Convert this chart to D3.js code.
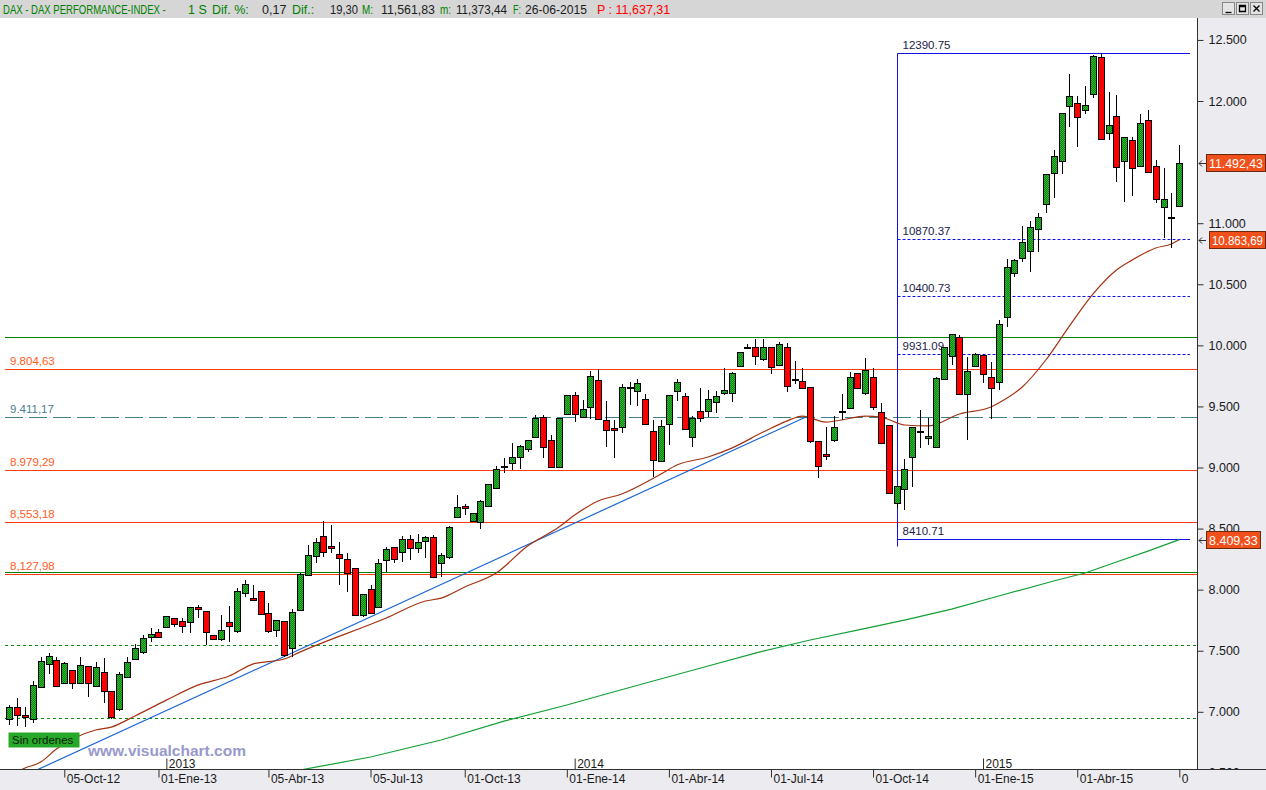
<!DOCTYPE html>
<html><head><meta charset="utf-8">
<script src="https://cdn.jsdelivr.net/npm/d3@7"></script>
<style>body{margin:0;background:#fff;overflow:hidden}svg{display:block}</style>
</head><body><svg id="c" width="1266" height="790"></svg>
<script>
// ---------------- DATA ----------------
const firstFriday = "2012-08-17";   // weekly candles, one per week
const opens = [6941,7039,6974,6941,7203,7391,7424,7236,7342,7236, 7375,7211,7326,7170,7023,7285,7432,7489,7612,7653,
 7694,7768,7743,7735,7858,7825,7629,7596,7735,7661, 7972,7931,7989,7809,7669,7743,7522,7833,8120,8275,
 8439,8360,8292,8251,8177,7792,8005,7858,8243,8349, 8308,8414,8341,8398,8431,8218,8267,8595,8685,8562,
 8554,8685,8832,9012,9037,9086,9151,9249,9413,9225, 9004,9438,9593,9413,9495,9716,9389,9323,9331,9659,
 9626,9560,9299,9053,9356,9626,9585,9249,9462,9462, 9536,9610,9610,9831,9986,9986,9888,9986,9839,9986,
 9724,9708,9659,9217,9110,9225,9462,9487,9773,9610, 9741,9454,9348,8709,8824,9086,9299,9241,9168,9724,
 9912,10068,9601,9831,9921,9741,9700,10232,10592,10715, 10772,10952,11157,11411,11509,11959,11984,11927,12058,12361,
 11738,11877,11509,11681,11468,11845,11468,11133,11050,11141];
const highs = [7056,7113,7039,7252,7448,7481,7448,7407,7342,7448, 7375,7407,7440,7170,7326,7448,7555,7629,7686,7678,
 7784,7768,7768,7858,7874,7825,7629,7792,7866,8013, 8079,8038,7989,7890,7751,7743,7841,8136,8365,8423,
 8562,8529,8390,8300,8177,7964,8038,8251,8349,8349, 8439,8447,8455,8439,8447,8300,8521,8775,8701,8627,
 8734,8865,9012,9078,9200,9184,9225,9430,9430,9266, 9405,9593,9618,9552,9790,9806,9544,9389,9683,9700,
 9724,9601,9389,9389,9593,9724,9610,9421,9651,9634, 9626,9814,9782,9945,10011,10052,10052,9986,10027,10019,
 9872,9814,9659,9217,9331,9421,9601,9782,9773,9896, 9814,9528,9348,8848,9069,9331,9470,9405,9741,9986,
 10093,10084,9904,9937,9929,9863,10207,10707,10707,10977, 11018,11083,11403,11599,11902,12221,12041,12123,12375,12390.75,
 12074,12049,11706,11706,11894,11927,11517,11452,11247,11640];
const lows = [6892,6884,6875,6908,7195,7309,7211,7236,7186,7236, 7121,7211,7072,6941,7006,7285,7424,7473,7571,7612,
 7694,7694,7645,7645,7768,7547,7596,7579,7571,7645, 7940,7915,7800,7645,7612,7448,7448,7833,8120,8218,
 8267,8300,8038,7981,7792,7776,7800,7850,8144,8218, 8226,8243,8300,8259,8103,8103,8251,8595,8611,8562,
 8496,8676,8832,8955,8979,8988,9127,9249,9078,8996, 9004,9438,9372,9413,9397,9397,9170,9078,9282,9511,
 9503,9356,8922,9053,9184,9544,9315,9168,9372,9413, 9446,9593,9536,9831,9970,9839,9872,9765,9839,9618,
 9683,9651,9200,8914,9061,9209,9389,9487,9651,9593, 9470,9200,8791,8668,8652,8840,9159,9184,9168,9724,
 9839,9601,9225,9831,9691,9397,9634,10150,10559,10682, 10600,10764,11083,11206,11403,11787,11624,11894,12025,11689,
 11681,11337,11173,11223,11468,11419,11165,10879,10797,11141];
const closes = [7039,6974,6957,7219,7416,7457,7211,7399,7236,7383, 7236,7367,7170,6957,7309,7407,7522,7604,7637,7612,
 7784,7719,7702,7858,7841,7653,7596,7669,7702,7989, 8046,7915,7800,7661,7751,7465,7817,8128,8283,8390,
 8308,8343,8259,8136,7792,7964,7809,8218,8333,8251, 8414,8341,8390,8431,8103,8283,8513,8676,8668,8627,
 8725,8865,8988,9008,9086,9176,9225,9405,9168,9004, 9405,9593,9438,9479,9749,9397,9307,9307,9659,9655,
 9691,9356,9061,9340,9593,9700,9315,9405,9405,9561, 9585,9634,9773,9945,9982,9912,9986,9822,10011,9667,
 9720,9651,9217,9012,9094,9331,9458,9741,9651,9798, 9495,9200,8791,8848,8988,9331,9295,9258,9732,9986,
 10093,9601,9790,9929,9765,9651,10174,10641,10699,10846, 10969,11051,11403,11550,11902,12041,11869,11968,12369,11689,
 11804,11460,11706,11452,11820,11419,11198,11198,11042,11492.43];

// 30-week moving average (brown), read at these candle numbers
const maShortWeek = [1,3,5,7,12,14,17,21,25,29,32,36,38,49,54,56,59,63,67,71,73,76,79,84,86,90,93,97,100,102,105,107,110,112,115,118,122,126,127,130,133,136,139,142,144,147,149,150];
const maShortVal  = [6482,6540,6589,6695,6851,6875,6966,7096,7219,7293,7391,7432,7489,7768,7907,7931,8022,8136,8357,8513,8611,8726,8783,8947,9020,9086,9159,9290,9380,9421,9372,9389,9421,9413,9348,9340,9438,9495,9528,9659,9880,10158,10420,10617,10699,10797,10830,10863.69];
// long moving average (green)
const maLongWeek = [38,47,56,64,72,77,83,90,96,103,109,115,121,127,134,138,142,146,150];
const maLongVal  = [6523,6630,6769,6924,7056,7146,7252,7375,7481,7588,7669,7751,7841,7948,8071,8136,8226,8316,8409.33];
// blue trend line: [week, value]
const trendWeek = [4, 103];
const trendVal  = [6509, 9430];

// horizontal levels
const redLevels = [9804.63, 8979.29, 8553.18, 8127.98];
const redLevelLabels = ["9.804,63", "8.979,29", "8,553,18", "8,127,98"];
const dashLevel = 9411.17, dashLevelLabel = "9.411,17";
const greenSolidLevels = [10066, 8142];
const greenDottedLevels = [7544, 6947];

// fibonacci retracement
const fibStartWeek = 114;
const fibLevels = [12390.75, 10870.37, 10400.73, 9931.09, 8410.71];
const fibLabels = ["12390.75", "10870.37", "10400.73", "9931.09", "8410.71"];
const fibSolid  = [true, false, false, false, true];

// axes (11.500 is hidden behind the price box in the original)
const yTickValues = [6500,7000,7500,8000,8500,9000,9500,10000,10500,11000,12000,12500];
const yMinorStep = 100;
const xTickDates  = ["2012-10-05","2013-01-01","2013-04-05","2013-07-05","2013-10-01","2014-01-01","2014-04-01","2014-07-01","2014-10-01","2015-01-01","2015-04-01"];
const xTickLabels = ["05-Oct-12","01-Ene-13","05-Abr-13","05-Jul-13","01-Oct-13","01-Ene-14","01-Abr-14","01-Jul-14","01-Oct-14","01-Ene-15","01-Abr-15"];
const yearLabels  = ["2013","2014","2015"];

// right-axis value boxes
const boxValues = [11492.43, 10863.69, 8409.33];
const boxLabels = ["11.492,43", "10.863,69", "8.409,33"];

// header
const header = [
 ["DAX - DAX PERFORMANCE-INDEX -",3,163,"g"],["1 S",188,19,"g"],["Dif. %:",212,37,"g"],["0,17",262,25,"k"],
 ["Dif.:",292,29,"g"],["19,30",330,28,"k"],["M:",362,11,"g"],["11,561,83",381,54,"k"],["m:",440,11,"g"],
 ["11,373,44",456,51,"k"],["F:",513,8,"g"],["26-06-2015",525,62,"k"],["P : 11,637,31",597,78,"r"]];

// ---------------- CHART ----------------
const svg = d3.select("#c");
const W = 1266, H = 790, plotR = 1197, plotT = 18, plotB = 770;
const FONT = "'Liberation Sans', Arial, sans-serif";

const parse = d3.utcParse("%Y-%m-%d");
const dates = opens.map((_, i) => d3.utcDay.offset(parse(firstFriday), 7 * i));
const x = d3.scaleUtc().domain([dates[0], dates[dates.length - 1]]).range([9.3, 1179.3]);
const y = d3.scaleLinear().domain([6500, 12500]).range([772.9, 39.95]);
const xw = w => x(d3.utcDay.offset(dates[0], 7 * (w - 1)));
const cy = v => Math.round(y(v)) + 0.5;

// helper: text squeezed horizontally to a given width
function fitText(parent, str, tx, ty, width, size, color, weight) {
  const g = parent.append("g");
  const t = g.append("text").text(str).attr("font-family", FONT).attr("font-size", size)
    .attr("fill", color).attr("font-weight", weight || null);
  const nat = t.node().getComputedTextLength();
  const sx = Math.min(1, width / nat);
  g.attr("transform", `translate(${tx},${ty}) scale(${sx},1)`);
  return g;
}

const defs = svg.append("defs");
const pat = defs.append("pattern").attr("id", "gp").attr("width", 2).attr("height", 2).attr("patternUnits", "userSpaceOnUse");
pat.append("rect").attr("width", 2).attr("height", 2).attr("fill", "#0b870b");
pat.append("rect").attr("width", 1).attr("height", 1).attr("fill", "#34b434");
pat.append("rect").attr("x", 1).attr("y", 1).attr("width", 1).attr("height", 1).attr("fill", "#34b434");
defs.append("clipPath").attr("id", "clip").append("rect").attr("x", 0).attr("y", plotT).attr("width", plotR).attr("height", plotB - plotT);

// backgrounds
svg.append("rect").attr("width", W).attr("height", H).attr("fill", "#ebebf0");
svg.append("rect").attr("x", 0).attr("y", plotT).attr("width", plotR).attr("height", plotB - plotT).attr("fill", "#ffffff");
svg.append("rect").attr("x", 0).attr("y", 0).attr("width", W).attr("height", plotT).attr("fill", "#d6d6d6");

const plot = svg.append("g").attr("clip-path", "url(#clip)");

// horizontal levels
const hline = (v, color, dash) => plot.append("line").attr("x1", 5).attr("x2", plotR).attr("y1", cy(v)).attr("y2", cy(v))
  .attr("stroke", color).attr("stroke-width", 1).attr("stroke-dasharray", dash || null);
greenSolidLevels.forEach(v => hline(v, "#008000"));
greenDottedLevels.forEach(v => hline(v, "#108a10", "3,3"));
redLevels.forEach(v => hline(v, "#ff3c10"));
hline(dashLevel, "#3f808c", "18,6");

redLevels.forEach((v, i) => plot.append("text").attr("x", 10).attr("y", y(v) - 4).text(redLevelLabels[i])
  .attr("font-family", FONT).attr("font-size", 11.5).attr("fill", "#ff5a22"));
plot.append("text").attr("x", 10).attr("y", y(dashLevel) - 4).text(dashLevelLabel)
  .attr("font-family", FONT).attr("font-size", 11.5).attr("fill", "#4a8090");

// fibonacci
const fx = Math.round(xw(fibStartWeek)) + 0.5;
plot.append("line").attr("x1", fx).attr("x2", fx).attr("y1", cy(fibLevels[0])).attr("y2", cy(fibLevels[4]) + 7)
  .attr("stroke", "#1010e8");
fibLevels.forEach((v, i) => {
  plot.append("line").attr("x1", fx).attr("x2", 1190).attr("y1", cy(v)).attr("y2", cy(v))
    .attr("stroke", "#1010e8").attr("stroke-dasharray", fibSolid[i] ? null : "3,2");
  plot.append("text").attr("x", fx + 5).attr("y", y(v) - 4).text(fibLabels[i])
    .attr("font-family", FONT).attr("font-size", 11.5).attr("fill", "#1c1c48");
});

// moving averages & trend
const line = d3.line().x(d => xw(d[0])).y(d => y(d[1]));
plot.append("path").datum(maLongWeek.map((w, i) => [w, maLongVal[i]])).attr("d", line)
  .attr("fill", "none").attr("stroke", "#12a035").attr("stroke-width", 1.2);
plot.append("path").datum(trendWeek.map((w, i) => [w, trendVal[i]])).attr("d", line)
  .attr("fill", "none").attr("stroke", "#1a66d6").attr("stroke-width", 1.2);
plot.append("path").datum(maShortWeek.map((w, i) => [w, maShortVal[i]])).attr("d", d3.line().curve(d3.curveMonotoneX).x(d => xw(d[0])).y(d => y(d[1])))
  .attr("fill", "none").attr("stroke", "#a33210").attr("stroke-width", 1.2);

// candles
const candles = dates.map((d, i) => ({ d, o: opens[i], h: highs[i], l: lows[i], c: closes[i] }));
const cg = plot.append("g").selectAll("g").data(candles).join("g");
cg.append("line")
  .attr("x1", d => Math.round(x(d.d)) + 0.5).attr("x2", d => Math.round(x(d.d)) + 0.5)
  .attr("y1", d => Math.round(y(d.h))).attr("y2", d => Math.round(y(d.l)))
  .attr("stroke", "#000").attr("stroke-width", 1);
cg.append("rect")
  .attr("x", d => Math.round(x(d.d)) - 2.5).attr("width", 6)
  .attr("y", d => Math.round(y(Math.max(d.o, d.c))) + 0.5)
  .attr("height", d => Math.max(1, Math.round(y(Math.min(d.o, d.c))) - Math.round(y(Math.max(d.o, d.c)))))
  .attr("fill", d => d.c >= d.o ? "url(#gp)" : "#ff0000")
  .attr("stroke", "#000").attr("stroke-width", 1);

// watermark + status
svg.append("text").attr("x", 88).attr("y", 756).text("www.visualchart.com")
  .attr("font-family", FONT).attr("font-weight", "bold").attr("font-size", 15.5).attr("fill", "#8e8ec8").attr("opacity", 0.9);
svg.append("rect").attr("x", 8.5).attr("y", 732.5).attr("width", 71).attr("height", 15).attr("fill", "#28a828");
svg.append("text").attr("x", 12).attr("y", 744).text("Sin ordenes").attr("font-family", FONT).attr("font-size", 11.5).attr("fill", "#0a200a");

// right axis
const ya = svg.append("g").attr("transform", `translate(${plotR + 0.5},0)`);
ya.call(d3.axisRight(y).tickValues(d3.range(6500, 12600, yMinorStep)).tickSize(3).tickFormat(""));
ya.call(d3.axisRight(y).tickValues(yTickValues).tickSize(6).tickPadding(5)
  .tickFormat(d => d3.format(",")(d).replace(/,/g, ".")));
ya.selectAll(".domain").remove();
ya.selectAll("line").attr("stroke", "#303030");
ya.selectAll("text").attr("font-family", FONT).attr("font-size", 12.5).attr("fill", "#1a1a1a");
svg.append("line").attr("x1", plotR + 0.5).attr("x2", plotR + 0.5).attr("y1", plotT).attr("y2", plotB).attr("stroke", "#303030");

// value boxes
boxValues.forEach((v, i) => {
  const yy = Math.round(y(v));
  const bx = i === 1 ? 1209 : 1206;
  const bw = i === 2 ? 54 : (i === 1 ? 56 : 59);
  svg.append("path").attr("d", `M${plotR + 9},${yy + 0.5}H${plotR + 2}M${plotR + 5},${yy - 2.5}L${plotR + 2},${yy + 0.5}L${plotR + 5},${yy + 3.5}`)
    .attr("stroke", "#303030").attr("fill", "none");
  svg.append("rect").attr("x", bx + 0.5).attr("y", yy - 8.5).attr("width", bw).attr("height", 17)
    .attr("fill", "#f2501a").attr("stroke", "#6a2a10");
  fitText(svg, boxLabels[i], bx + 3, yy + 5, bw - 5, 12.5, "#ffffff");
});

// bottom strip + x axis
svg.append("rect").attr("x", 0).attr("y", plotB).attr("width", W).attr("height", H - plotB).attr("fill", "#ebebf0");
svg.append("line").attr("x1", 0).attr("x2", W).attr("y1", plotB - 0.5).attr("y2", plotB - 0.5).attr("stroke", "#303030");
const tickCandles = xTickDates.map(s => dates[d3.bisectRight(dates, parse(s)) - 1]).concat([dates[dates.length - 1]]);
const tickText = xTickLabels.concat(["0"]);
const xa = svg.append("g").attr("transform", `translate(0,${plotB - 0.5})`)
  .call(d3.axisBottom(x).tickValues(tickCandles).tickSize(8).tickFormat((d, i) => tickText[i]));
xa.selectAll(".domain").remove();
xa.selectAll("line").attr("stroke", "#303030");
xa.selectAll("text").attr("x", 2).attr("y", 5).attr("dy", "0.71em").attr("text-anchor", "start")
  .attr("font-family", FONT).attr("font-size", 12).attr("fill", "#1a1a1a");
const yearCandles = yearLabels.map(s => dates.find(d => d.getUTCFullYear() === +s));
const yra = svg.append("g").attr("transform", `translate(0,${plotB - 0.5})`)
  .call(d3.axisTop(x).tickValues(yearCandles).tickSize(11).tickFormat((d, i) => yearLabels[i]));
yra.selectAll(".domain").remove();
yra.selectAll("line").attr("stroke", "#303030");
yra.selectAll("text").attr("x", 2).attr("y", -2).attr("dy", 0).attr("text-anchor", "start")
  .attr("font-family", FONT).attr("font-size", 12).attr("fill", "#1a1a1a");

// header
const hc = { g: "#008000", k: "#202020", r: "#ff0000" };
header.forEach(([t, hx, hw, c]) => fitText(svg, t, hx, 13.5, hw, 12.5, hc[c]));
[1222, 1236, 1250].forEach((bx, i) => {
  svg.append("rect").attr("x", bx + 0.5).attr("y", 2.5).attr("width", 12).attr("height", 12).attr("fill", "#e4e4e4").attr("stroke", "#888");
  const gpath = ["M3,10H9", "M3,3H9V9H3Z M3,4H9", "M3,3L9,9M9,3L3,9"][i];
  svg.append("path").attr("transform", `translate(${bx + 0.5},2.5)`).attr("d", gpath).attr("stroke", "#000").attr("stroke-width", 1.3).attr("fill", "none");
});
</script>
</body></html>
